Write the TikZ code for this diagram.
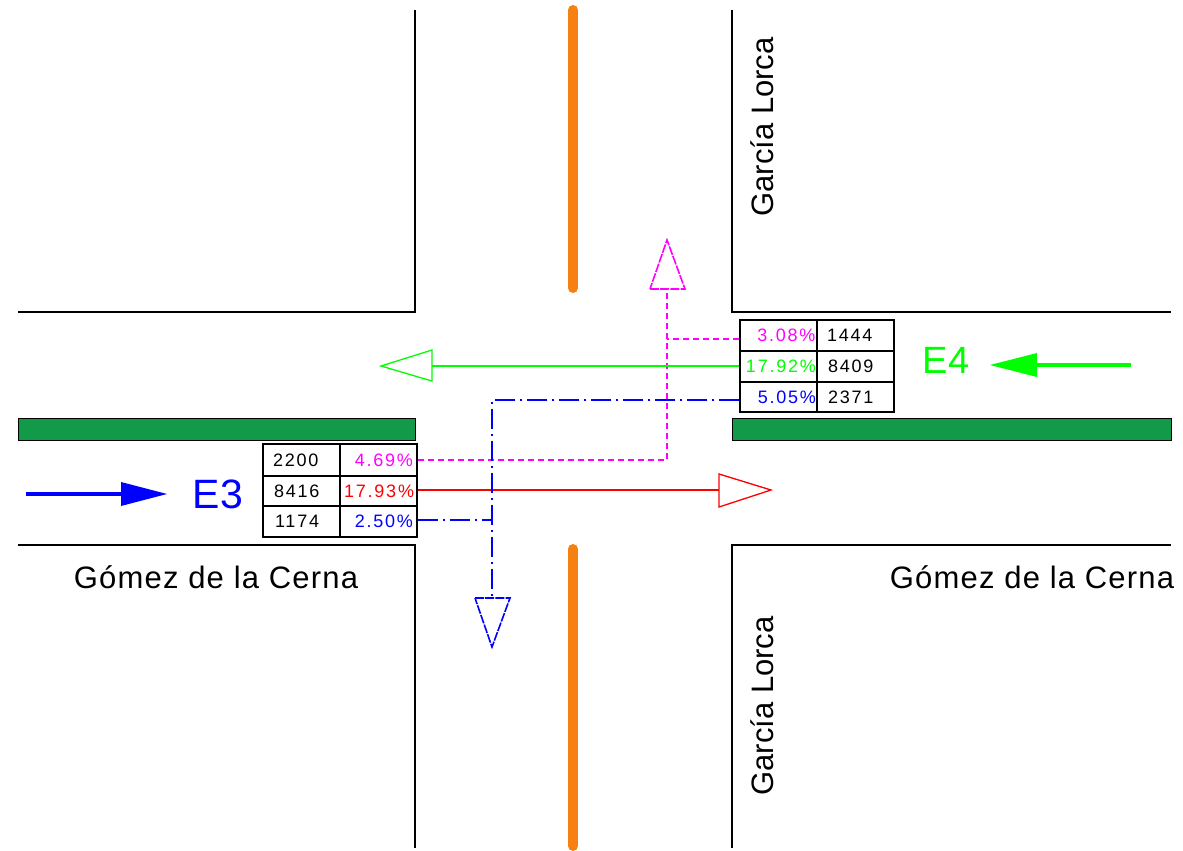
\documentclass[tikz,border=0pt]{standalone}
\usepackage{fontspec}
\setmainfont{Liberation Sans}
\newfontfamily\spacedfont[LetterSpace=10]{Liberation Sans}
\newfontfamily\roadfont[LetterSpace=3.8]{Liberation Sans}
\usetikzlibrary{calc}
\definecolor{medgreen}{HTML}{139A48}
\definecolor{roadorange}{HTML}{F68110}
\definecolor{mag}{HTML}{FF00FF}
\definecolor{grn}{HTML}{00FF00}
\definecolor{rd}{HTML}{FF0000}
\definecolor{blu}{HTML}{0000FF}
\tikzset{
  wall/.style={draw=black,line width=1.2pt},
  median/.style={draw=black,line width=.8pt,fill=medgreen},
  axis/.style={draw=roadorange,line width=10pt,line cap=round},
  cell/.style={draw=black,line width=1.3pt,minimum width=77pt,inner sep=0pt,font=\spacedfont\fontsize{18}{18}\selectfont,anchor=center},
  magline/.style={draw=mag,line width=1.4pt,dash pattern=on 6.5pt off 3.5pt},
  grnline/.style={draw=grn,line width=1.3pt},
  redline/.style={draw=rd,line width=1.3pt},
  bluline/.style={draw=blu,line width=1.4pt,dash pattern=on 20pt off 5pt on 2pt off 5pt},
  magtri/.style={draw=mag,line width=1.6pt,dash pattern=on 9pt off 1.2pt},
  blutri/.style={draw=blu,line width=1.6pt,dash pattern=on 9pt off 1.2pt},
  roadlabel/.style={font=\fontsize{31}{31}\selectfont,inner sep=0pt},
  crossname/.style={font=\roadfont\fontsize{31}{31}\selectfont,inner sep=0pt},
  station/.style={inner sep=0pt},
  flow/.style={line width=4pt},
}
\newcommand{\pct}[2]{\textcolor{#1}{#2}}
\newcommand{\cnt}[2]{\hspace*{#1pt}#2}
\begin{document}
\begin{tikzpicture}[x=1pt,y=-1pt]
\useasboundingbox (0,0) rectangle (1183,851);
% kerbs
\draw[wall] (415,10) -- (415,312) -- (18,312);
\draw[wall] (732,10) -- (732,312) -- (1171,312);
\draw[wall] (18,545) -- (415,545) -- (415,848);
\draw[wall] (732,848) -- (732,545) -- (1171,545);
% medians
\draw[median] (18,418) rectangle (415,440);
\draw[median] (732,418) rectangle (1171,440);
\draw[axis] (573,10) -- (573,288);
\draw[axis] (573,549) -- (573,846);
% road names
\node[roadlabel] (gl1) at (762,127) [rotate=90] {García Lorca};
\node[roadlabel] (gl2) at (762,706) [rotate=90] {García Lorca};
\node[crossname] (gc1) at (216,577) {Gómez de la Cerna};
\node[crossname] (gc2) at (1032,577) {Gómez de la Cerna};
% E3 table
\node[cell,minimum height=32pt,text width=69pt,align=left] (a1) at (301.5,460) {\cnt{6}{2200}};
\node[cell,minimum height=30pt,text width=69pt,align=left] (a2) at (301.5,491) {\cnt{7}{8416}};
\node[cell,minimum height=31pt,text width=69pt,align=left] (a3) at (301.5,521.5) {\cnt{8}{1174}};
\node[cell,minimum height=32pt,text width=69pt,align=right] (b1) at (378.5,460) {\pct{mag}{4.69\%}};
\node[cell,minimum height=30pt,text width=69pt,align=right] (b2) at (378.5,491) {\pct{rd}{17.93\%}};
\node[cell,minimum height=31pt,text width=69pt,align=right] (b3) at (378.5,521.5) {\pct{blu}{2.50\%}};
% E4 table
\node[cell,minimum height=31pt,text width=74pt,align=right] (c1) at (778.5,335.5) {\pct{mag}{3.08\%}};
\node[cell,minimum height=31pt,text width=75pt,align=right] (c2) at (778.5,366.5) {\pct{grn}{17.92\%}};
\node[cell,minimum height=30pt,text width=75pt,align=right] (c3) at (778.5,397) {\pct{blu}{5.05\%}};
\node[cell,minimum height=31pt,text width=69pt,align=left] (d1) at (855.5,335.5) {\cnt{6}{1444}};
\node[cell,minimum height=31pt,text width=69pt,align=left] (d2) at (855.5,366.5) {\cnt{7}{8409}};
\node[cell,minimum height=30pt,text width=69pt,align=left] (d3) at (855.5,397) {\cnt{7}{2371}};
% stations
\node[station,text=blu,font=\fontsize{41}{41}\selectfont] (e3) at (218,494) {E3};
\node[station,text=grn,font=\fontsize{38}{38}\selectfont] (e4) at (946,360) {E4};
% flow arrows
\coordinate (s3) at (26,494); \coordinate (h3) at (121,494); \coordinate (t3) at (167,494);
\draw[blu,flow] (s3) -- (h3);
\fill[blu] (121,482) -- (t3) -- (121,506) -- cycle;
\coordinate (s4) at (1131,365); \coordinate (h4) at (1037,365); \coordinate (t4) at (990,365);
\draw[grn,flow] (s4) -- (h4);
\fill[grn] (1037,353) -- (t4) -- (1037,377) -- cycle;
% magenta movement
\coordinate (mc) at (667,460); \coordinate (mj) at (667,339); \coordinate (mb) at (667,289);
\draw[magline] (b1.east) -- (mc) -- (mb);
\draw[magline] (c1.west |- mj) -- (mj);
\draw[magtri] (650,289) -- (685,289) -- (667,240) -- cycle;
% green movement
\coordinate (gb) at (432,366);
\draw[grnline] (c2.west |- gb) -- (gb);
\draw[grnline] (432,350) -- (432,381) -- (381,366) -- cycle;
% red movement
\coordinate (rb) at (719,490);
\draw[redline] (b2.east |- rb) -- (rb);
\draw[redline] (719,474) -- (719,507) -- (771,490) -- cycle;
% blue movement
\coordinate (bc) at (492,400); \coordinate (bj) at (492,520); \coordinate (bb) at (492,598);
\draw[bluline] (c3.west |- bc) -- (bc) -- (bb);
\draw[bluline] (b3.east |- bj) -- (bj);
\draw[blutri] (475,598) -- (510,598) -- (492,647) -- cycle;
\end{tikzpicture}
\end{document}
